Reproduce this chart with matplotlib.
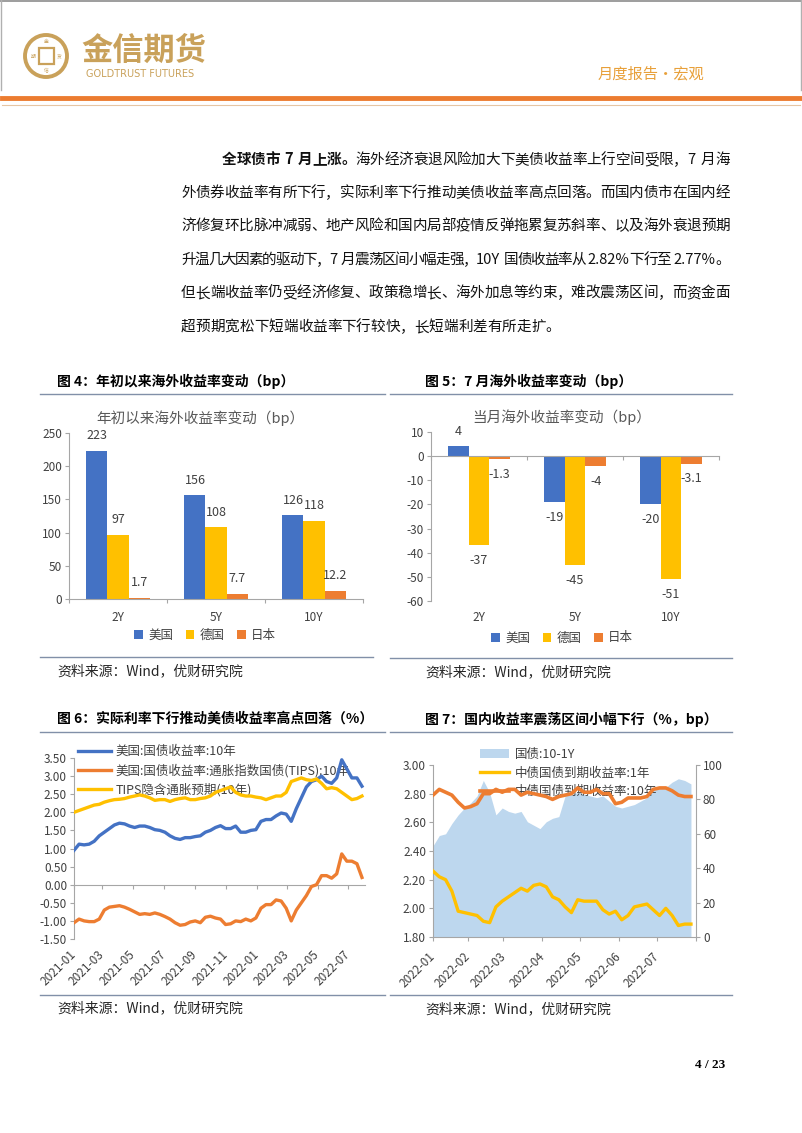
import numpy as np
import pandas as pd
import matplotlib
matplotlib.use('Agg')
import matplotlib.pyplot as plt
import matplotlib.dates as mdates
from matplotlib.lines import Line2D
from matplotlib.patches import Ellipse, Rectangle
from matplotlib.ticker import FormatStrFormatter

plt.rcParams['font.family'] = ['Noto Sans CJK SC', 'DejaVu Sans']
plt.rcParams['axes.unicode_minus'] = False

# ---------------- 数据 ----------------
tenors = ['2Y', '5Y', '10Y']
countries = ['美国', '德国', '日本']
ytd_us = [223, 156, 126]
ytd_de = [97, 108, 118]
ytd_jp = [1.7, 7.7, 12.2]
jul_us = [4, -19, -20]
jul_de = [-37, -45, -51]
jul_jp = [-1.3, -4, -3.1]

# 图6 读数，每10天一个点
us_dates = pd.date_range('2021-01-04', periods=58, freq='10D')
us10y = [0.95, 1.12, 1.10, 1.12, 1.20, 1.35, 1.45, 1.55, 1.65, 1.70,
         1.68, 1.62, 1.58, 1.62, 1.62, 1.58, 1.52, 1.50, 1.45, 1.35,
         1.28, 1.25, 1.30, 1.30, 1.33, 1.35, 1.45, 1.50, 1.58, 1.63,
         1.55, 1.55, 1.62, 1.45, 1.45, 1.50, 1.52, 1.75, 1.80, 1.80,
         1.90, 1.98, 1.95, 1.75, 2.10, 2.40, 2.70, 2.85, 2.90, 3.00,
         2.85, 2.80, 2.95, 3.45, 3.20, 2.95, 2.95, 2.72]
tips10y = [-1.05, -0.95, -1.00, -1.02, -1.02, -0.95, -0.70, -0.62, -0.60, -0.58,
           -0.62, -0.68, -0.75, -0.82, -0.80, -0.82, -0.78, -0.82, -0.88, -0.95,
           -1.05, -1.12, -1.10, -1.03, -1.00, -1.05, -0.90, -0.87, -0.92, -0.95,
           -1.10, -1.08, -1.00, -1.02, -0.95, -1.00, -0.92, -0.65, -0.55, -0.55,
           -0.42, -0.45, -0.65, -1.00, -0.70, -0.50, -0.30, -0.05, 0.00, 0.25,
           0.25, 0.18, 0.30, 0.85, 0.65, 0.65, 0.58, 0.20]
bei10y = [2.00, 2.05, 2.10, 2.15, 2.20, 2.22, 2.28, 2.32, 2.35, 2.36,
          2.38, 2.42, 2.45, 2.48, 2.45, 2.40, 2.33, 2.35, 2.35, 2.30,
          2.35, 2.38, 2.40, 2.35, 2.35, 2.38, 2.40, 2.45, 2.55, 2.60,
          2.65, 2.70, 2.55, 2.48, 2.45, 2.45, 2.42, 2.40, 2.35, 2.40,
          2.45, 2.45, 2.55, 2.85, 2.90, 2.95, 2.90, 2.88, 2.92, 2.80,
          2.65, 2.68, 2.65, 2.55, 2.45, 2.35, 2.38, 2.45]

# 图7 读数，每5天一个点
cn_dates = pd.date_range('2022-01-04', periods=42, freq='5D')
spread_10_1 = [53, 59, 60, 66, 71, 75, 78, 82, 91, 84,
               71, 75, 73, 72, 73, 67, 65, 63, 67, 69,
               70, 82, 83, 84, 83, 82, 81, 82, 79, 76,
               75, 76, 77, 79, 81, 85, 87, 87, 90, 92,
               91, 89]
cn1y = [2.26, 2.22, 2.20, 2.12, 1.98, 1.97, 1.96, 1.95, 1.91, 1.90,
        2.01, 2.05, 2.08, 2.11, 2.14, 2.12, 2.16, 2.17, 2.15, 2.08,
        2.06, 2.01, 1.97, 2.06, 2.05, 2.05, 2.05, 1.99, 1.96, 1.98,
        1.92, 1.95, 2.01, 2.02, 2.03, 1.99, 1.95, 2.00, 1.95, 1.88,
        1.89, 1.89]
cn10y = [2.79, 2.83, 2.81, 2.79, 2.74, 2.70, 2.71, 2.73, 2.80, 2.80,
         2.83, 2.81, 2.83, 2.83, 2.79, 2.81, 2.80, 2.79, 2.78, 2.76,
         2.78, 2.79, 2.80, 2.84, 2.81, 2.81, 2.83, 2.80, 2.80, 2.73,
         2.74, 2.77, 2.77, 2.77, 2.78, 2.83, 2.84, 2.84, 2.82, 2.79,
         2.78, 2.78]

# ---------------- 页面 ----------------
W, H = 802, 1133
fig = plt.figure(figsize=(W / 100, H / 100), dpi=100)
renderer = fig.canvas.get_renderer()

blue, yellow, orange = '#4472C4', '#FFC000', '#ED7D31'
area_c = '#BDD7EE'
gold = '#C9A15A'
axis_c = '#A6A6A6'
tick_c = '#404040'
rule_c = '#8190A8'


def fx(x):
    return x / W


def fy(y):
    return 1 - y / H


def add_ax(l, t, r, b):
    return fig.add_axes([fx(l), fy(b), (r - l) / W, (b - t) / H])


def hline(x0, x1, y, color, lw):
    fig.add_artist(Line2D([fx(x0), fx(x1)], [fy(y), fy(y)], color=color, lw=lw,
                          transform=fig.transFigure))


def vline(x, y0, y1, color, lw):
    fig.add_artist(Line2D([fx(x), fx(x)], [fy(y0), fy(y1)], color=color, lw=lw,
                          transform=fig.transFigure))


# 页眉
hline(0, 802, 0.8, '#8C8C8C', 1.2)
vline(1, 0, 90, '#B0B0B0', 1)
vline(801, 0, 90, '#B0B0B0', 1)
fig.add_artist(Ellipse((fx(46), fy(56)), 42 / W, 42 / H, transform=fig.transFigure,
                       fill=False, ec=gold, lw=2.8))
fig.add_artist(Rectangle((fx(38.5), fy(64)), 15 / W, 16 / H, transform=fig.transFigure,
                         fill=False, ec=gold, lw=1.6))
for ch, (cx, cy) in zip('金信期货', [(46, 41.5), (46, 70), (33, 56), (59, 56)]):
    fig.text(fx(cx), fy(cy), ch, fontsize=3.5, color=gold, ha='center', va='center')
fig.text(fx(81), fy(51), '金信期货', fontsize=22.5, fontweight='bold', color=gold, va='center')
fig.text(fx(86), fy(74), 'GOLDTRUST FUTURES', fontsize=7, family='DejaVu Sans',
         color=gold, va='center')
fig.text(fx(598), fy(74), '月度报告·宏观', fontsize=11, color='#E8A03A', va='center')
hline(2, 800, 97.5, '#EC7C30', 3.5)
hline(2, 800, 104.5, '#E6C6A4', 0.8)

# 正文（两端对齐）
BODY = 10.5
EM = BODY * 100 / 72


def tokens(segs):
    out = []
    for s, wt in segs:
        buf = ''
        for ch in s:
            if ord(ch) < 128 and ch != ' ':
                buf += ch
                continue
            if buf:
                out.append((buf, wt))
                buf = ''
            out.append((ch, wt))
        if buf:
            out.append((buf, wt))
    return out


def tok_width(tok, wt):
    if tok == ' ':
        return EM * 0.3
    if ord(tok[0]) >= 128:
        return EM
    t = fig.text(0, 0, tok, fontsize=BODY, fontweight=wt)
    w = t.get_window_extent(renderer).width + 1
    t.remove()
    return w


def body_line(segs, x0, y, x1=None):
    toks = tokens(segs)
    ws = [tok_width(t, w) for t, w in toks]
    gap = 0 if x1 is None else (x1 - x0 - sum(ws)) / (len(toks) - 1)
    x = x0
    for (t, wt), w in zip(toks, ws):
        if t != ' ':
            fig.text(fx(x), fy(y + 5), t, fontsize=BODY, fontweight=wt,
                     va='baseline', ha='left', color='#111111')
        x += w + gap


body_line([('全球债市 7 月上涨。', 'bold'),
           ('海外经济衰退风险加大下美债收益率上行空间受限，7 月海', 'normal')], 222, 159, 730)
body_line([('外债券收益率有所下行，实际利率下行推动美债收益率高点回落。而国内债市在国内经', 'normal')],
          181, 192, 730)
body_line([('济修复环比脉冲减弱、地产风险和国内局部疫情反弹拖累复苏斜率、以及海外衰退预期', 'normal')],
          181, 225, 730)
body_line([('升温几大因素的驱动下，7 月震荡区间小幅走强，10Y 国债收益率从 2.82%下行至 2.77%。', 'normal')],
          181, 259, 730)
body_line([('但长端收益率仍受经济修复、政策稳增长、海外加息等约束，难改震荡区间，而资金面', 'normal')],
          181, 292, 730)
body_line([('超预期宽松下短端收益率下行较快，长短端利差有所走扩。', 'normal')], 181, 326)

# 图标题、分隔线、资料来源
titles = [(57, 381, '图 4：年初以来海外收益率变动（bp）'),
          (425, 381, '图 5：7 月海外收益率变动（bp）'),
          (57, 719, '图 6：实际利率下行推动美债收益率高点回落（%）'),
          (425, 719, '图 7：国内收益率震荡区间小幅下行（%，bp）')]
for x, y, s in titles:
    fig.text(fx(x), fy(y), s, fontsize=10, fontweight='bold', va='center')
for x0, x1, y in [(40, 385, 394), (390, 732, 394), (40, 373, 657), (390, 732, 658),
                  (40, 385, 732), (390, 732, 732), (40, 385, 995), (390, 732, 995)]:
    hline(x0, x1, y, rule_c, 1.0)
for x, y in [(57, 671), (425, 672), (57, 1008), (425, 1009)]:
    fig.text(fx(x), fy(y), '资料来源：Wind，优财研究院', fontsize=10, color='#262626', va='center')
fig.text(fx(710), fy(1065), '4 / 23', fontsize=9.5, fontweight='bold',
         family=['Liberation Serif', 'DejaVu Serif'], ha='center', va='center')


def style(ax):
    for s in ['top', 'right']:
        ax.spines[s].set_visible(False)
    for s in ['left', 'bottom']:
        ax.spines[s].set_color(axis_c)
        ax.spines[s].set_linewidth(0.8)
    ax.tick_params(colors=axis_c, labelcolor=tick_c, labelsize=8.5, length=3,
                   width=0.8, pad=2)


pos = np.arange(len(tenors))
bw = 0.215
bar_colors = [blue, yellow, orange]

# ---------------- 图4 ----------------
ax4 = add_ax(69, 433, 363, 599)
style(ax4)
for k, (vals, col, name) in enumerate(zip([ytd_us, ytd_de, ytd_jp], bar_colors, countries)):
    xs = pos + (k - 1) * bw
    ax4.bar(xs, vals, bw, color=col, label=name)
    for xi, v in zip(xs, vals):
        ax4.annotate(f'{v:g}', (xi, v), xytext=(0, 11), textcoords='offset points',
                     ha='center', va='center', fontsize=9, color=tick_c)
ax4.set_xlim(-0.5, 2.5)
ax4.set_ylim(0, 250)
ax4.set_yticks(np.arange(0, 251, 50))
ax4.set_xticks(pos, tenors)
ax4.set_xticks(np.arange(-0.5, 3), minor=True)
ax4.tick_params(axis='x', which='major', length=0, pad=8.5)
ax4.tick_params(axis='x', which='minor', length=3, color=axis_c, width=0.8)
fig.text(fx(200), fy(418), '年初以来海外收益率变动（bp）', fontsize=10.5, color='#595959',
         ha='center', va='center')
ax4.legend(loc='center', bbox_to_anchor=(fx(205), fy(635)), bbox_transform=fig.transFigure,
           ncol=3, frameon=False, fontsize=9, handlelength=0.7, handleheight=0.7,
           handletextpad=0.4, columnspacing=1.0, labelcolor=tick_c)

# ---------------- 图5 ----------------
ax5 = add_ax(431, 432, 719, 601)
style(ax5)
for k, (vals, col, name) in enumerate(zip([jul_us, jul_de, jul_jp], bar_colors, countries)):
    xs = pos + (k - 1) * bw
    ax5.bar(xs, vals, bw, color=col, label=name)
    for xi, v in zip(xs, vals):
        ax5.annotate(f'{v:g}', (xi, v), xytext=(0, 11 if v >= 0 else -11),
                     textcoords='offset points', ha='center', va='center',
                     fontsize=9, color=tick_c)
ax5.set_xlim(-0.5, 2.5)
ax5.set_ylim(-60, 10)
ax5.set_yticks(np.arange(-60, 11, 10))
ax5.spines['bottom'].set_position(('data', 0))
ax5.set_xticks(pos)
ax5.set_xticks(np.arange(-0.5, 3), minor=True)
ax5.tick_params(axis='x', which='major', length=0, labelbottom=False)
ax5.tick_params(axis='x', which='minor', length=3, color=axis_c, width=0.8)
sec5 = ax5.secondary_xaxis('bottom')
sec5.spines['bottom'].set_visible(False)
sec5.tick_params(length=0, labelsize=8.5, labelcolor=tick_c, pad=7)
sec5.set_xticks(pos, tenors)
fig.text(fx(562), fy(417), '当月海外收益率变动（bp）', fontsize=10.5, color='#595959',
         ha='center', va='center')
ax5.legend(loc='center', bbox_to_anchor=(fx(562), fy(638)), bbox_transform=fig.transFigure,
           ncol=3, frameon=False, fontsize=9, handlelength=0.7, handleheight=0.7,
           handletextpad=0.4, columnspacing=1.0, labelcolor=tick_c)

# ---------------- 图6 ----------------
ax6 = add_ax(74, 758, 365, 939)
style(ax6)
ax6.plot(us_dates, us10y, color=blue, lw=2.4, label='美国:国债收益率:10年', zorder=3)
ax6.plot(us_dates, tips10y, color=orange, lw=2.4,
         label='美国:国债收益率:通胀指数国债(TIPS):10年', zorder=3)
ax6.plot(us_dates, bei10y, color=yellow, lw=2.4, label='TIPS隐含通胀预期(10年)', zorder=3)
ax6.set_ylim(-1.5, 3.5)
ax6.set_yticks(np.arange(-1.5, 3.51, 0.5))
ax6.yaxis.set_major_formatter(FormatStrFormatter('%.2f'))
ax6.set_xlim(us_dates[0], pd.Timestamp('2022-08-03'))
ticks6 = pd.DatetimeIndex([us_dates[0]]).append(pd.date_range('2021-03-01', '2022-07-01', freq='2MS'))
ax6.spines['bottom'].set_position(('data', 0))
ax6.set_xticks(ticks6)
ax6.tick_params(axis='x', labelbottom=False)
sec6 = ax6.secondary_xaxis('bottom')
sec6.spines['bottom'].set_visible(False)
sec6.tick_params(length=0, labelsize=8.5, labelcolor=tick_c, pad=9.5)
sec6.set_xticks(mdates.date2num(ticks6), ['2021-01'] + list(ticks6[1:].strftime('%Y-%m')),
                rotation=45, ha='right', va='center', rotation_mode='anchor')
leg6 = ax6.legend(loc='upper left', bbox_to_anchor=(fx(78), fy(745)),
                  bbox_transform=fig.transFigure, frameon=False, fontsize=9,
                  handlelength=2.6, labelspacing=0.45, borderaxespad=0, borderpad=0,
                  handletextpad=0.4, labelcolor=tick_c)
leg6.set_zorder(1)

# ---------------- 图7 ----------------
ax7 = add_ax(433, 765, 696, 937)
ax7b = ax7.twinx()
area = ax7.fill_between(cn_dates, spread_10_1, color=area_c, lw=0, label='国债:10-1Y')
ax7.set_ylim(0, 100)
ax7.set_yticks(np.arange(0, 101, 20))
ln1, = ax7b.plot(cn_dates, cn1y, color=yellow, lw=2.4, label='中债国债到期收益率:1年')
ln10, = ax7b.plot(cn_dates, cn10y, color=orange, lw=2.6, label='中债国债到期收益率:10年')
ax7b.set_ylim(1.8, 3.0)
ax7b.set_yticks(np.arange(1.8, 3.01, 0.2))
ax7b.yaxis.set_major_formatter(FormatStrFormatter('%.2f'))
ax7.yaxis.tick_right()
ax7b.yaxis.tick_left()
for s in ax7b.spines.values():
    s.set_visible(False)
ax7.spines['top'].set_visible(False)
for s in ['left', 'right', 'bottom']:
    ax7.spines[s].set_color(axis_c)
    ax7.spines[s].set_linewidth(0.8)
for a in (ax7, ax7b):
    a.tick_params(colors=axis_c, labelcolor=tick_c, labelsize=8.5, length=3, width=0.8, pad=2)
ticks7 = pd.DatetimeIndex([cn_dates[0]]).append(pd.date_range('2022-02-01', '2022-08-01', freq='MS'))
ax7.set_xlim(cn_dates[0], pd.Timestamp('2022-08-01'))
ax7.tick_params(axis='x', pad=9.5)
ax7.set_xticks(ticks7, ['2022-01'] + list(ticks7[1:-1].strftime('%Y-%m')) + [''],
               rotation=45, ha='right', va='center', rotation_mode='anchor')
ax7.legend([area, ln1, ln10], [area.get_label(), ln1.get_label(), ln10.get_label()],
           loc='upper left', bbox_to_anchor=(fx(480), fy(748)), bbox_transform=fig.transFigure,
           frameon=False, fontsize=9, handlelength=2.3, handleheight=0.7, labelspacing=0.45,
           borderpad=0, borderaxespad=0, handletextpad=0.5, labelcolor=tick_c)

fig.savefig('out.png', dpi=100)
